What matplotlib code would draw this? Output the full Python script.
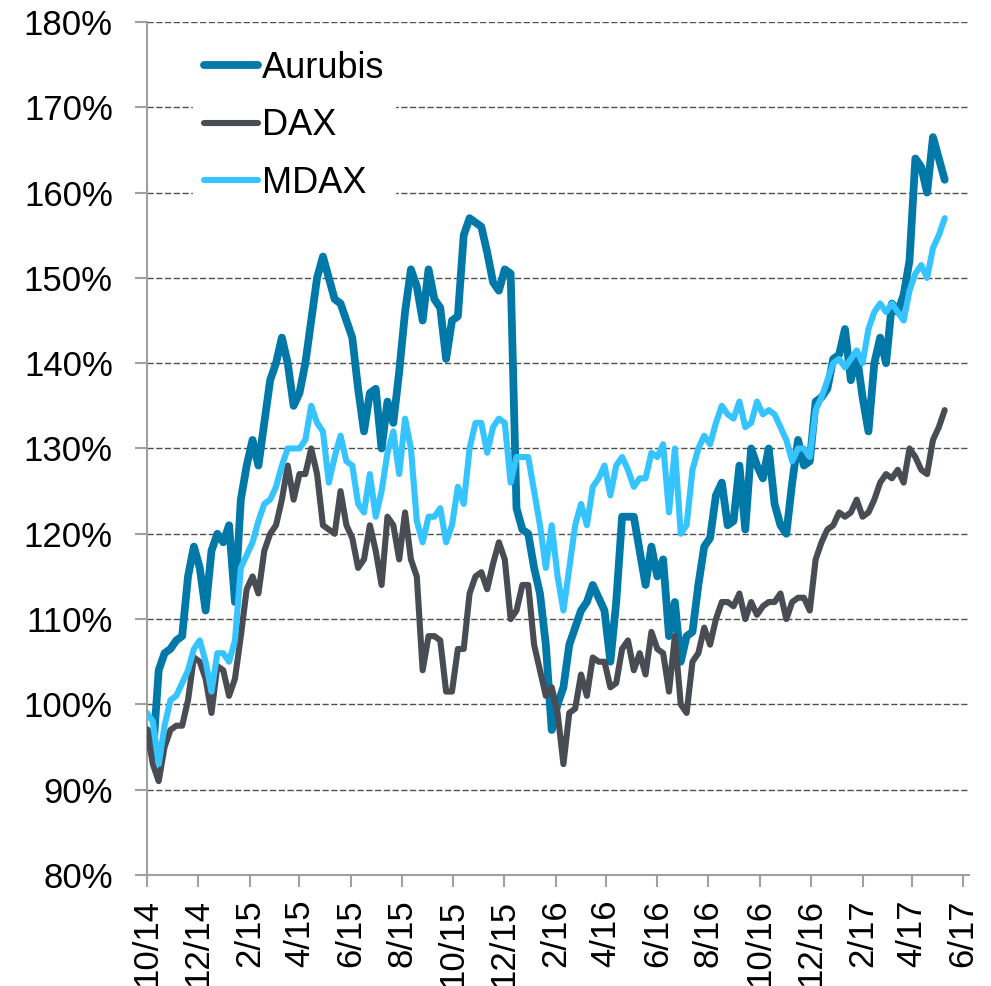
import matplotlib
matplotlib.use('Agg')
import matplotlib.pyplot as plt
import matplotlib.dates as mdates
from matplotlib.ticker import FuncFormatter
import pandas as pd

plt.rcParams['font.family'] = ['Liberation Sans', 'DejaVu Sans']

# weekly values in % (indexed, start 1 Oct 2014)
start_date = '2014-10-01'
aurubis = [97, 94, 104, 106, 106.5, 107.5, 108, 115, 118.5, 116,
           111, 118, 120, 119, 121, 112, 124, 128, 131, 128,
           133, 138, 140, 143, 140, 135, 136.5, 140, 145, 150,
           152.5, 150, 147.5, 147, 145, 143, 137, 132, 136.5, 137,
           130, 135.5, 133, 139, 146, 151, 149, 145, 151, 147.5,
           146.5, 140.5, 145, 145.5, 155, 157, 156.5, 156, 153, 149.5,
           148.5, 151, 150.5, 123, 120.5, 120, 116, 113, 107, 97,
           100, 102, 107, 109, 111, 112, 114, 112.5, 111, 105,
           112, 122, 122, 122, 118, 114, 118.5, 115, 117, 108,
           112, 105, 108, 108.5, 114, 118.5, 119.5, 124.5, 126, 121,
           121.5, 128, 120.5, 130, 128, 126.5, 130, 123.5, 121, 120,
           126, 131, 128, 128.5, 135.5, 136, 137, 140.5, 141, 144,
           138, 141, 136, 132, 140, 143, 140, 147, 146, 148,
           152, 164, 163, 160, 166.5, 164, 161.5]
dax = [97, 93, 91, 95, 97, 97.5, 97.5, 100.5, 105.5, 105,
       103, 99, 104.5, 104, 101, 103, 108, 113.5, 115, 113,
       118, 120, 121, 124, 128, 124, 127, 127, 130, 127,
       121, 120.5, 120, 125, 121, 119.5, 116, 117, 121, 118,
       114, 122, 121, 117, 122.5, 117, 115, 104, 108, 108,
       107.5, 101.5, 101.5, 106.5, 106.5, 113, 115, 115.5, 113.5, 116.5,
       119, 117, 110, 111, 114, 114, 107, 104, 101, 102,
       99, 93, 99, 99.5, 103.5, 101, 105.5, 105, 105, 102,
       102.5, 106.5, 107.5, 104, 106, 103.5, 108.5, 106.5, 106, 101.5,
       108, 100, 99, 105, 106, 109, 107, 110, 112, 112,
       111.5, 113, 110, 112, 110.5, 111.5, 112, 112, 113, 110,
       112, 112.5, 112.5, 111, 117, 119, 120.5, 121, 122.5, 122,
       122.5, 124, 122, 122.5, 124, 126, 127, 126.5, 127.5, 126,
       130, 129, 127.5, 127, 131, 132.5, 134.5]
mdax = [99, 98, 93, 97.5, 100.5, 101, 102.5, 104, 106.5, 107.5,
        105, 101.5, 106, 106, 105, 107.5, 116, 117.5, 119, 121.5,
        123.5, 124, 125.5, 128, 130, 130, 130, 131, 135, 133,
        132, 126, 129, 131.5, 128.5, 128, 123.5, 122.5, 127, 122,
        125, 129.5, 132, 127, 133.5, 130, 121.5, 119, 122, 122,
        123, 119, 121, 125.5, 123.5, 130, 133, 133, 129.5, 132.5,
        133.5, 133, 126, 129, 129, 129, 125, 121, 116, 121,
        115, 111, 116, 121, 123.5, 121, 125.5, 126.5, 128, 124.5,
        128, 129, 127.5, 125.5, 126.5, 126.5, 129.5, 129, 130.5, 122.5,
        130, 120, 121, 127.5, 130, 131.5, 130.5, 133, 135, 134,
        133.5, 135.5, 132.5, 133, 135.5, 134, 134.5, 134, 132.5, 131,
        128.5, 130, 130, 129, 134.5, 136, 138, 140, 140.5, 139.5,
        140.5, 141.5, 140, 144, 146, 147, 146, 147, 146, 145,
        148.5, 150.5, 151.5, 150, 153.5, 155, 157]

dates = pd.date_range(start_date, periods=len(aurubis), freq='7D')

fig = plt.figure(figsize=(9.91, 9.86), dpi=100)
ax = fig.add_axes([0.1483, 0.1126, 0.8295, 0.8651])

ax.plot(dates, aurubis, color='#0078A8', lw=5.6, label='Aurubis',
        solid_joinstyle='round', solid_capstyle='round', zorder=3)
ax.plot(dates, dax, color='#494C53', lw=4.4, label='DAX',
        solid_joinstyle='round', solid_capstyle='round', zorder=4)
ax.plot(dates, mdax, color='#35C4FF', lw=4.4, label='MDAX',
        solid_joinstyle='round', solid_capstyle='round', zorder=5)

ax.set_ylim(80, 180)
ax.set_yticks(range(80, 181, 10))
ax.yaxis.set_major_formatter(FuncFormatter(lambda v, p: f'{v:.0f}%'))

ax.set_xlim(pd.Timestamp('2014-10-01'), pd.Timestamp('2017-06-08'))
ax.xaxis.set_major_locator(mdates.MonthLocator(bymonth=[2, 4, 6, 8, 10, 12]))


def month_label(v, p):
    d = mdates.num2date(v)
    return f'{d.month}/{d:%y}'


ax.xaxis.set_major_formatter(FuncFormatter(month_label))

ax.yaxis.grid(True, color='#505050', lw=1.0, linestyle=(0, (4.5, 1.8)))
ax.set_axisbelow(True)

for side in ['top', 'right']:
    ax.spines[side].set_visible(False)
for side in ['left', 'bottom']:
    ax.spines[side].set_color('#A0A0A0')
    ax.spines[side].set_linewidth(1.5)

ax.tick_params(axis='both', direction='out', length=8.6, width=1.5,
               color='#A0A0A0', labelsize=25, labelcolor='black')
ax.tick_params(axis='y', pad=16)
ax.tick_params(axis='x', pad=9, labelrotation=90)

leg = ax.legend(loc='upper left', bbox_to_anchor=(0.034, 1.0),
                fontsize=26, handlelength=1.5, handletextpad=0.1,
                labelspacing=0.62, borderpad=0.3, frameon=True,
                fancybox=False)
leg.get_frame().set_facecolor('white')
leg.get_frame().set_edgecolor('white')
leg.get_frame().set_alpha(1)
for line in leg.get_lines():
    line.set_solid_capstyle('round')

fig.savefig('out.png', dpi=100)
